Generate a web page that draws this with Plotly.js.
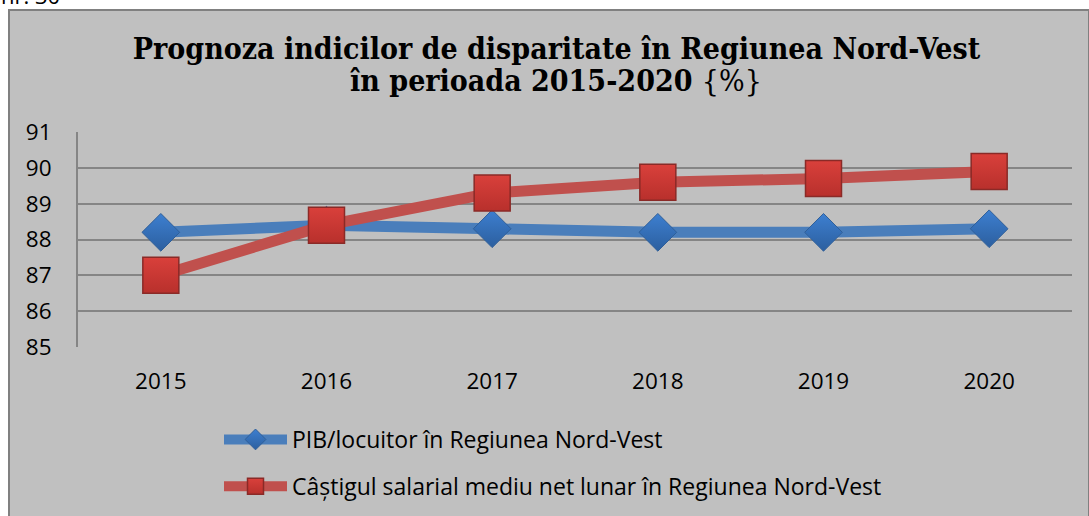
<!DOCTYPE html>
<html>
<head>
<meta charset="utf-8">
<script src="https://cdn.plot.ly/plotly-3.0.1.min.js"></script>
<style>
html,body{margin:0;padding:0;background:#fff;}
#chart{width:1089px;height:516px;}
</style>
</head>
<body>
<div id="chart"></div>
<script>
var years = ["2015", "2016", "2017", "2018", "2019", "2020"];
var pibLocuitor = [88.2, 88.4, 88.3, 88.2, 88.2, 88.3];
var castigSalarial = [87.0, 88.4, 89.3, 89.6, 89.7, 89.9];
var seriesNames = [
  "PIB/locuitor în Regiunea Nord-Vest",
  "Câștigul salarial mediu net lunar în Regiunea Nord-Vest"
];
var titleLines = [
  "Prognoza indicilor de disparitate în Regiunea Nord-Vest",
  "în perioada 2015-2020 <span style=\"font-weight:normal\">{%}</span>"
];
var yTicks = [85, 86, 87, 88, 89, 90, 91];

var bodyFont = "'Open Sans', Lato, sans-serif";
var titleFont = "'DejaVu Serif Condensed', 'DejaVu Serif', serif";

var traces = [
  {
    x: years, y: pibLocuitor, name: seriesNames[0], type: "scatter", mode: "lines+markers",
    legendgroup: "a",
    line: {color: "#4a7ebb", width: 11},
    marker: {symbol: "diamond", size: 29, color: "#3d7fd0",
             gradient: {type: "vertical", color: "#2c5f9f"},
             line: {color: "#2f5f99", width: 1}}
  },
  {
    x: years, y: castigSalarial, name: seriesNames[1], type: "scatter", mode: "lines+markers",
    legendgroup: "b",
    line: {color: "#c0504d", width: 11},
    marker: {symbol: "square", size: 36, color: "#d9403b",
             gradient: {type: "vertical", color: "#b8302c"},
             line: {color: "#8a2a27", width: 1.5}}
  }
];

var L = 78, R = 1072, T = 132, B = 347, W = 1089, H = 516;
function px2x(p){ return (p - L) / (R - L); }
function py2y(p){ return (B - p) / (B - T); }

var layout = {
  width: W, height: H,
  margin: {l: L, r: W - R, t: T, b: H - B, pad: 0, autoexpand: false},
  paper_bgcolor: "#ffffff",
  plot_bgcolor: "rgba(0,0,0,0)",
  font: {family: bodyFont, size: 22, color: "#000"},
  title: {
    text: titleLines[0],
    font: {family: titleFont, size: 30, color: "#000", weight: "bold"},
    x: 0.511, xref: "container", xanchor: "center",
    y: 1 - 48 / H, yref: "container", yanchor: "middle"
  },
  showlegend: true,
  legend: {
    xref: "container", yref: "container",
    x: 219 / W, xanchor: "left",
    y: 1 - 418 / H, yanchor: "top",
    orientation: "v",
    bgcolor: "rgba(0,0,0,0)",
    font: {family: bodyFont, size: 23, color: "#000"},
    itemwidth: 63,
    tracegroupgap: 14,
    traceorder: "grouped"
  },
  xaxis: {
    type: "category",
    range: [-0.5, 5.5],
    showgrid: false, zeroline: false, showline: false,
    ticks: "",
    ticklabelstandoff: 18,
    tickfont: {family: bodyFont, size: 22.5, color: "#000"},
    fixedrange: true
  },
  yaxis: {
    range: [85, 91],
    tickvals: yTicks,
    ticktext: yTicks.map(String),
    showgrid: true, gridcolor: "#858585", gridwidth: 2,
    zeroline: false,
    showline: true, linecolor: "#858585", linewidth: 2,
    ticks: "",
    ticklabelstandoff: 20,
    tickfont: {family: bodyFont, size: 22.5, color: "#000"},
    fixedrange: true
  },
  shapes: [
    {
      type: "rect", xref: "paper", yref: "paper", layer: "below",
      x0: px2x(9), x1: px2x(1089), y0: py2y(10), y1: py2y(530),
      fillcolor: "#c0c0c0", line: {color: "#808080", width: 2}
    }
  ],
  annotations: [
    {
      text: titleLines[1], xref: "paper", yref: "paper",
      x: px2x(556), xanchor: "center", y: py2y(81), yanchor: "middle",
      showarrow: false, font: {family: titleFont, size: 30, color: "#000", weight: "bold"}
    },
    {
      text: "nr. 30", xref: "paper", yref: "paper",
      x: px2x(-1), xanchor: "left", y: py2y(12), yanchor: "bottom",
      showarrow: false, font: {family: bodyFont, size: 22, color: "#000"}
    }
  ]
};

Plotly.newPlot("chart", traces, layout, {displayModeBar: false, staticPlot: true});
</script>
</body>
</html>
